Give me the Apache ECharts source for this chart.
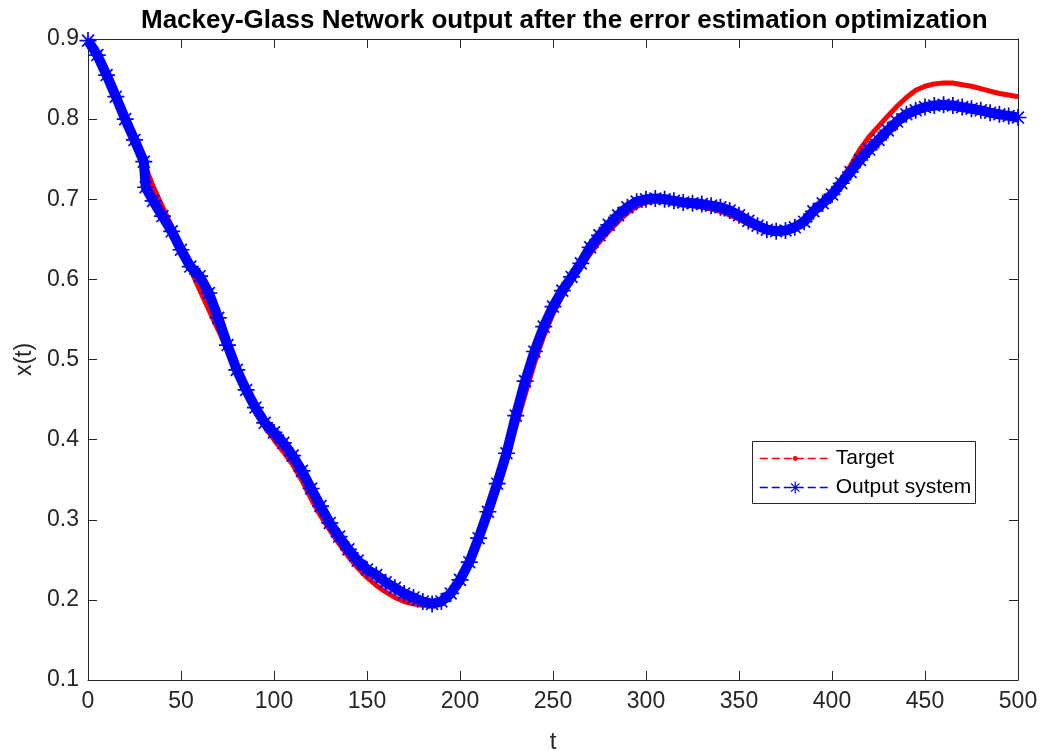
<!DOCTYPE html>
<html>
<head>
<meta charset="utf-8">
<script src="https://cdn.jsdelivr.net/npm/echarts@6/dist/echarts.min.js"></script>
<style>
  html, body { margin: 0; padding: 0; background: #fff; }
  #main { width: 1050px; height: 751px; }
</style>
</head>
<body>
<div id="main"></div>
<script>
// time samples (t = 31 added for the jump of the output)
const tVals = [0, 5, 10, 15, 20, 25, 30, 31, 35, 40, 45, 50, 55, 60, 65, 70, 75, 80, 85, 90, 95,
  100, 105, 110, 115, 120, 125, 130, 135, 140, 145, 150, 155, 160, 165, 170, 175, 180, 185, 190, 195,
  200, 205, 210, 215, 220, 225, 230, 235, 240, 245, 250, 255, 260, 265, 270, 275, 280, 285, 290, 295,
  300, 305, 310, 315, 320, 325, 330, 335, 340, 345, 350, 355, 360, 365, 370, 375, 380, 385, 390, 395,
  400, 405, 410, 415, 420, 425, 430, 435, 440, 445, 450, 455, 460, 465, 470, 475, 480, 485, 490, 495, 500];

const targetVals = [0.898, 0.880, 0.855, 0.828, 0.800, 0.773, 0.746, 0.740, 0.716, 0.691, 0.666, 0.641, 0.613, 0.587, 0.562, 0.537, 0.511, 0.483, 0.457, 0.435, 0.416,
  0.400, 0.385, 0.369, 0.349, 0.326, 0.305, 0.287, 0.270, 0.254, 0.240, 0.228, 0.218, 0.210, 0.203, 0.198, 0.195, 0.193, 0.194, 0.200, 0.212,
  0.228, 0.250, 0.275, 0.305, 0.340, 0.376, 0.416, 0.456, 0.495, 0.529, 0.557, 0.579, 0.598, 0.615, 0.632, 0.647, 0.660, 0.672, 0.683, 0.691,
  0.696, 0.699, 0.699, 0.697, 0.694, 0.692, 0.690, 0.688, 0.685, 0.680, 0.675, 0.669, 0.664, 0.660, 0.659, 0.660, 0.665, 0.673, 0.685, 0.697,
  0.710, 0.725, 0.742, 0.762, 0.778, 0.791, 0.804, 0.816, 0.827, 0.836, 0.841, 0.844, 0.845, 0.845, 0.843, 0.841, 0.838, 0.835, 0.832, 0.830, 0.828];

const outputVals = [0.898, 0.880, 0.855, 0.828, 0.800, 0.774, 0.747, 0.715, 0.698, 0.679, 0.660, 0.637, 0.616, 0.604, 0.583, 0.552, 0.518, 0.487, 0.462, 0.440, 0.421,
  0.409, 0.396, 0.380, 0.361, 0.339, 0.317, 0.296, 0.279, 0.263, 0.249, 0.238, 0.231, 0.222, 0.215, 0.208, 0.203, 0.198, 0.195, 0.198, 0.208,
  0.225, 0.247, 0.277, 0.310, 0.345, 0.383, 0.430, 0.473, 0.510, 0.541, 0.566, 0.586, 0.603, 0.620, 0.640, 0.655, 0.668, 0.680, 0.690, 0.697,
  0.700, 0.701, 0.700, 0.698, 0.696, 0.695, 0.694, 0.692, 0.690, 0.686, 0.680, 0.673, 0.667, 0.662, 0.660, 0.661, 0.665, 0.672, 0.685, 0.695,
  0.706, 0.720, 0.734, 0.749, 0.762, 0.774, 0.786, 0.797, 0.806, 0.811, 0.815, 0.817, 0.818, 0.817, 0.815, 0.813, 0.811, 0.808, 0.806, 0.804, 0.802];

const axisColor = "#262626";
const fontFam = "'Liberation Sans', Arial, Helvetica, sans-serif";
// matlab style '*' marker
const star = "path://M-1,-10L1,-10L1,10L-1,10Z M-10,-1L10,-1L10,1L-10,1Z M-7.7,-6.3L-6.3,-7.7L7.7,6.3L6.3,7.7Z M6.3,-7.7L7.7,-6.3L-6.3,7.7L-7.7,6.3Z";

const myChart = echarts.init(document.getElementById("main"));

const xBase = {
  type: "value", min: 0, max: 500, interval: 50,
  axisLine: { show: true, onZero: false, lineStyle: { color: axisColor, width: 1 } },
  axisTick: { show: true, inside: true, length: 9, lineStyle: { color: axisColor } },
  splitLine: { show: false },
};
const yBase = {
  type: "value", min: 0.1, max: 0.9, interval: 0.1,
  axisLine: { show: true, onZero: false, lineStyle: { color: axisColor, width: 1 } },
  axisTick: { show: true, inside: true, length: 9, lineStyle: { color: axisColor } },
  splitLine: { show: false },
};

const option = {
  backgroundColor: "#fff",
  animation: false,
  title: {
    text: "Mackey-Glass Network output after the error estimation optimization",
    left: 136,
    top: 3,
    textStyle: { fontFamily: fontFam, fontSize: 26, fontWeight: "bold", color: "#000" },
  },
  grid: { left: 88, right: 32, top: 39, bottom: 71, outerBoundsMode: "none", containLabel: false },
  xAxis: [
    Object.assign({}, xBase, {
      position: "bottom",
      name: "t", nameLocation: "middle", nameGap: 50,
      nameTextStyle: { fontFamily: fontFam, fontSize: 24, color: axisColor },
      axisLabel: { fontFamily: fontFam, fontSize: 23, color: axisColor, margin: 10 },
    }),
    Object.assign({}, xBase, { position: "top", axisLabel: { show: false } }),
  ],
  yAxis: [
    Object.assign({}, yBase, {
      position: "left",
      name: "x(t)", nameLocation: "middle", nameGap: 50, nameRotate: 90,
      nameTextStyle: { fontFamily: fontFam, fontSize: 23, color: axisColor },
      axisLabel: { fontFamily: fontFam, fontSize: 23, color: axisColor, margin: 9,
        formatter: (v) => v.toFixed(1) },
    }),
    Object.assign({}, yBase, { position: "right", axisLabel: { show: false } }),
  ],
  legend: [
    {
      data: ["Target"],
      left: 759, top: 448, padding: 0,
      itemWidth: 71, itemHeight: 6, itemGap: 6,
      lineStyle: { type: [8, 4], width: 1.5 },
      textStyle: { fontFamily: fontFam, fontSize: 21, color: "#000" },
    },
    {
      data: ["Output system"],
      left: 759, top: 477, padding: 0,
      itemWidth: 71, itemHeight: 15, itemGap: 6,
      lineStyle: { type: [8, 4], width: 1.5 },
      textStyle: { fontFamily: fontFam, fontSize: 21, color: "#000" },
    },
  ],
  graphic: [
    {
      type: "rect", left: 752, top: 441, z: 0, zlevel: 0,
      shape: { width: 223, height: 62 },
      style: { fill: "#fff", stroke: axisColor, lineWidth: 1 },
    },
  ],
  series: [
    {
      name: "Target",
      type: "line",
      data: tVals.map((t, i) => [t, targetVals[i]]),
      symbol: "circle",
      showSymbol: false,
      color: "#ff0000",
      lineStyle: { color: "#ff0000", width: 5 },
      z: 2,
    },
    {
      name: "Output system",
      type: "line",
      data: tVals.map((t, i) => [t, outputVals[i]]),
      symbol: star,
      symbolSize: 17,
      showAllSymbol: true,
      color: "#0000ff",
      itemStyle: { color: "#0000ff" },
      lineStyle: { color: "#0000ff", width: 10 },
      z: 3,
    },
  ],
};

myChart.setOption(option);
</script>
</body>
</html>
